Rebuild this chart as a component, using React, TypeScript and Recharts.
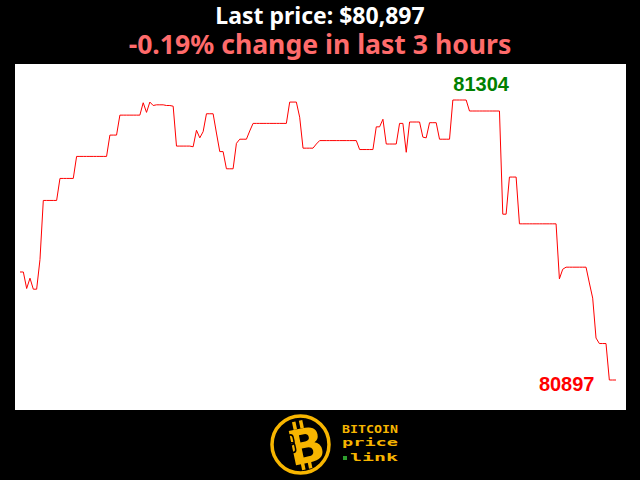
import { LineChart, Line, XAxis, YAxis, ReferenceDot } from 'recharts';

// price per minute over the last 3 hours
const prices = [
  81054, 81054, 81030, 81045, 81029, 81029, 81072, 81158, 81158, 81158,
  81158, 81158, 81190, 81190, 81190, 81190, 81190, 81222, 81222, 81222,
  81222, 81222, 81222, 81222, 81222, 81222, 81222, 81253, 81253, 81253,
  81282, 81282, 81282, 81282, 81282, 81282, 81282, 81300, 81286, 81301,
  81296, 81297, 81297, 81297, 81296, 81296, 81295, 81237, 81237, 81237,
  81237, 81237, 81236, 81260, 81249, 81258, 81284, 81284, 81284, 81256,
  81229, 81229, 81204, 81204, 81204, 81241, 81247, 81247, 81247, 81259,
  81270, 81270, 81270, 81270, 81270, 81270, 81270, 81270, 81270, 81270,
  81270, 81301, 81301, 81301, 81279, 81234, 81234, 81234, 81234, 81240,
  81245, 81245, 81245, 81245, 81245, 81245, 81245, 81245, 81245, 81245,
  81245, 81245, 81232, 81232, 81232, 81232, 81232, 81265, 81265, 81276,
  81240, 81240, 81240, 81240, 81270, 81270, 81228, 81272, 81272, 81272,
  81272, 81250, 81249, 81271, 81271, 81271, 81247, 81247, 81247, 81247,
  81304, 81304, 81304, 81304, 81304, 81288, 81288, 81288, 81288, 81288,
  81288, 81288, 81288, 81288, 81288, 81138, 81138, 81192, 81192, 81192,
  81124, 81124, 81124, 81124, 81124, 81124, 81124, 81124, 81124, 81124,
  81124, 81124, 81044, 81058, 81061, 81061, 81061, 81061, 81061, 81061,
  81061, 81038, 81016, 80958, 80950, 80950, 80950, 80897, 80897, 80897,
];

const title = 'Last price: $80,897';
const subtitle = '-0.19% change in last 3 hours';

const chartData = prices.map((price, minute) => ({ minute, price }));

const maxPrice = Math.max(...prices);
const minPrice = Math.min(...prices);
const maxIndex = prices.indexOf(maxPrice);
const lastIndex = prices.length - 1;
const lastPrice = prices[lastIndex];

const GOLD = '#f7b500';

const Logo = () => (
  <g>
    <circle cx={300.5} cy={444.5} r={28.5} fill="none" stroke={GOLD} strokeWidth={3.5} />
    <g transform="rotate(-12 305 445)">
      <rect x={297} y={420} width={3.5} height={8} fill={GOLD} />
      <rect x={304} y={420} width={3.5} height={8} fill={GOLD} />
      <rect x={297} y={461} width={3.5} height={8} fill={GOLD} />
      <rect x={304} y={461} width={3.5} height={8} fill={GOLD} />
      <text x={306} y={463} textAnchor="middle" fontFamily="DejaVu Sans" fontWeight={900} fontSize={48} fill={GOLD}>
        B
      </text>
      <rect x={289} y={432} width={6} height={10} rx={3} fill="none" stroke="#000" strokeWidth={1.5} />
      <rect x={289} y={440} width={6} height={10} rx={3} fill="none" stroke="#000" strokeWidth={1.5} />
    </g>
    <text x={342} y={432.5} fontFamily="DejaVu Sans Mono" fontWeight={700} fontSize={10.5} textLength={56} lengthAdjust="spacingAndGlyphs" fill={GOLD}>
      BITCOIN
    </text>
    <text x={342} y={446} fontFamily="DejaVu Sans Mono" fontWeight={700} fontSize={11} textLength={56} lengthAdjust="spacingAndGlyphs" fill={GOLD}>
      price
    </text>
    <rect x={343} y={456} width={4} height={4} fill="#2e9e2e" />
    <text x={350} y={460.5} fontFamily="DejaVu Sans Mono" fontWeight={700} fontSize={11} textLength={48} lengthAdjust="spacingAndGlyphs" fill={GOLD}>
      link
    </text>
  </g>
);

export default function App() {
  return (
    <div style={{ position: 'absolute', left: 0, top: 0, width: 640, height: 480, background: '#000', overflow: 'hidden' }}>
      <svg width={640} height={480} style={{ position: 'absolute', left: 0, top: 0 }}>
        <text x={320} y={24} textAnchor="middle" fontFamily="Noto Sans" fontWeight={700} fontSize={23} fill="#fff">
          {title}
        </text>
        <text x={320} y={53.5} textAnchor="middle" fontFamily="Noto Sans" fontWeight={700} fontSize={26.6} fill="#ff6b6b">
          {subtitle}
        </text>
        <Logo />
      </svg>
      <div style={{ position: 'absolute', left: 15, top: 64, width: 611, height: 346, background: '#fff' }}>
        <LineChart width={611} height={346} data={chartData} margin={{ top: 36, right: 10, bottom: 30, left: 5 }}>
          <XAxis dataKey="minute" type="number" domain={[0, lastIndex]} hide />
          <YAxis domain={[minPrice, maxPrice]} hide />
          <Line
            type="linear"
            dataKey="price"
            stroke="#ff0000"
            strokeWidth={1}
            dot={false}
            isAnimationActive={false}
          />
          <ReferenceDot
            x={maxIndex}
            y={maxPrice}
            r={0}
            shape={(p: any) => (
              <text x={p.cx + 0.5} y={p.cy - 9.5} fontFamily="Liberation Sans" fontWeight={700} fontSize={20} fill="#008000">
                {maxPrice}
              </text>
            )}
          />
          <ReferenceDot
            x={lastIndex}
            y={lastPrice}
            r={0}
            shape={(p: any) => (
              <text x={p.cx - 21.5} y={p.cy + 10.5} textAnchor="end" fontFamily="Liberation Sans" fontWeight={700} fontSize={20} fill="#ff0000">
                {lastPrice}
              </text>
            )}
          />
        </LineChart>
      </div>
    </div>
  );
}
